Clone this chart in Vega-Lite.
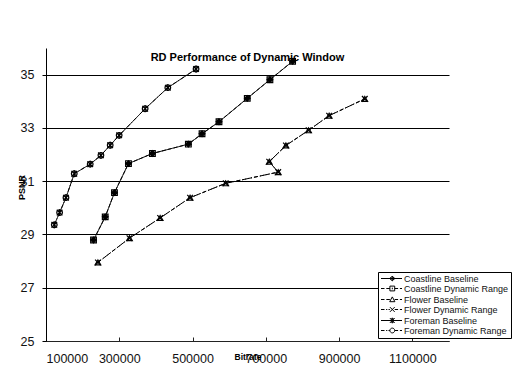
{
  "$schema": "https://vega.github.io/schema/vega-lite/v6.json",
  "width": 403,
  "height": 293,
  "autosize": {"type": "none"},
  "padding": {"left": 46, "top": 48, "right": 70, "bottom": 25},
  "background": "white",
  "config": {
    "font": "Liberation Sans",
    "view": {"stroke": null},
    "axis": {"labelFont": "Liberation Sans", "titleFont": "Liberation Sans"}
  },
  "title": {
    "text": "RD Performance of Dynamic Window",
    "font": "Liberation Sans",
    "fontSize": 11,
    "fontWeight": "bold",
    "color": "black",
    "baseline": "middle",
    "offset": -21,
    "anchor": "middle"
  },
  "data": {
    "values": [
      {"s": "Coastline Baseline", "i": 1, "x": 229700, "y": 28.79},
      {"s": "Coastline Baseline", "i": 2, "x": 261600, "y": 29.66},
      {"s": "Coastline Baseline", "i": 3, "x": 286900, "y": 30.57},
      {"s": "Coastline Baseline", "i": 4, "x": 325100, "y": 31.66},
      {"s": "Coastline Baseline", "i": 5, "x": 390500, "y": 32.04},
      {"s": "Coastline Baseline", "i": 6, "x": 488600, "y": 32.39},
      {"s": "Coastline Baseline", "i": 7, "x": 525900, "y": 32.78},
      {"s": "Coastline Baseline", "i": 8, "x": 572200, "y": 33.23},
      {"s": "Coastline Baseline", "i": 9, "x": 649400, "y": 34.11},
      {"s": "Coastline Baseline", "i": 10, "x": 711200, "y": 34.81},
      {"s": "Coastline Baseline", "i": 11, "x": 773100, "y": 35.5},
      {"s": "Coastline Dynamic Range", "i": 1, "x": 229700, "y": 28.79},
      {"s": "Coastline Dynamic Range", "i": 2, "x": 261600, "y": 29.66},
      {"s": "Coastline Dynamic Range", "i": 3, "x": 286900, "y": 30.57},
      {"s": "Coastline Dynamic Range", "i": 4, "x": 325100, "y": 31.66},
      {"s": "Coastline Dynamic Range", "i": 5, "x": 390500, "y": 32.04},
      {"s": "Coastline Dynamic Range", "i": 6, "x": 488600, "y": 32.39},
      {"s": "Coastline Dynamic Range", "i": 7, "x": 525900, "y": 32.78},
      {"s": "Coastline Dynamic Range", "i": 8, "x": 572200, "y": 33.23},
      {"s": "Coastline Dynamic Range", "i": 9, "x": 649400, "y": 34.11},
      {"s": "Coastline Dynamic Range", "i": 10, "x": 711200, "y": 34.81},
      {"s": "Coastline Dynamic Range", "i": 11, "x": 773100, "y": 35.5},
      {"s": "Flower Baseline", "i": 1, "x": 241700, "y": 27.95},
      {"s": "Flower Baseline", "i": 2, "x": 327800, "y": 28.86},
      {"s": "Flower Baseline", "i": 3, "x": 411500, "y": 29.62},
      {"s": "Flower Baseline", "i": 4, "x": 493200, "y": 30.38},
      {"s": "Flower Baseline", "i": 5, "x": 590500, "y": 30.92},
      {"s": "Flower Baseline", "i": 6, "x": 733800, "y": 31.34},
      {"s": "Flower Baseline", "i": 7, "x": 709300, "y": 31.73},
      {"s": "Flower Baseline", "i": 8, "x": 754800, "y": 32.34},
      {"s": "Flower Baseline", "i": 9, "x": 816700, "y": 32.91},
      {"s": "Flower Baseline", "i": 10, "x": 872800, "y": 33.46},
      {"s": "Flower Baseline", "i": 11, "x": 970100, "y": 34.09},
      {"s": "Flower Dynamic Range", "i": 1, "x": 241700, "y": 27.95},
      {"s": "Flower Dynamic Range", "i": 2, "x": 327800, "y": 28.86},
      {"s": "Flower Dynamic Range", "i": 3, "x": 411500, "y": 29.62},
      {"s": "Flower Dynamic Range", "i": 4, "x": 493200, "y": 30.38},
      {"s": "Flower Dynamic Range", "i": 5, "x": 590500, "y": 30.92},
      {"s": "Flower Dynamic Range", "i": 6, "x": 733800, "y": 31.34},
      {"s": "Flower Dynamic Range", "i": 7, "x": 709300, "y": 31.73},
      {"s": "Flower Dynamic Range", "i": 8, "x": 754800, "y": 32.34},
      {"s": "Flower Dynamic Range", "i": 9, "x": 816700, "y": 32.91},
      {"s": "Flower Dynamic Range", "i": 10, "x": 872800, "y": 33.46},
      {"s": "Flower Dynamic Range", "i": 11, "x": 970100, "y": 34.09},
      {"s": "Foreman Baseline", "i": 1, "x": 122600, "y": 29.36},
      {"s": "Foreman Baseline", "i": 2, "x": 137100, "y": 29.82},
      {"s": "Foreman Baseline", "i": 3, "x": 154500, "y": 30.38},
      {"s": "Foreman Baseline", "i": 4, "x": 177100, "y": 31.28},
      {"s": "Foreman Baseline", "i": 5, "x": 220700, "y": 31.64},
      {"s": "Foreman Baseline", "i": 6, "x": 249900, "y": 31.97},
      {"s": "Foreman Baseline", "i": 7, "x": 275200, "y": 32.35},
      {"s": "Foreman Baseline", "i": 8, "x": 299700, "y": 32.72},
      {"s": "Foreman Baseline", "i": 9, "x": 370600, "y": 33.72},
      {"s": "Foreman Baseline", "i": 10, "x": 432500, "y": 34.51},
      {"s": "Foreman Baseline", "i": 11, "x": 509600, "y": 35.21},
      {"s": "Foreman Dynamic Range", "i": 1, "x": 122600, "y": 29.36},
      {"s": "Foreman Dynamic Range", "i": 2, "x": 137100, "y": 29.82},
      {"s": "Foreman Dynamic Range", "i": 3, "x": 154500, "y": 30.38},
      {"s": "Foreman Dynamic Range", "i": 4, "x": 177100, "y": 31.28},
      {"s": "Foreman Dynamic Range", "i": 5, "x": 220700, "y": 31.64},
      {"s": "Foreman Dynamic Range", "i": 6, "x": 249900, "y": 31.97},
      {"s": "Foreman Dynamic Range", "i": 7, "x": 275200, "y": 32.35},
      {"s": "Foreman Dynamic Range", "i": 8, "x": 299700, "y": 32.72},
      {"s": "Foreman Dynamic Range", "i": 9, "x": 370600, "y": 33.72},
      {"s": "Foreman Dynamic Range", "i": 10, "x": 432500, "y": 34.51},
      {"s": "Foreman Dynamic Range", "i": 11, "x": 509600, "y": 35.21}
    ]
  },
  "encoding": {
    "x": {
      "field": "x",
      "type": "quantitative",
      "title": "Bitrate",
      "scale": {"domain": [100000, 1200000], "nice": false, "zero": false},
      "axis": {
        "values": [100000, 300000, 500000, 700000, 900000, 1100000],
        "format": "d",
        "grid": false,
        "domainColor": "#222",
        "tickColor": "#222",
        "tickSize": -4,
        "labelPadding": 15,
        "labelFontSize": 12.5,
        "labelColor": "#111",
        "titleFontSize": 8.5,
        "titleFontWeight": "bold",
        "titleColor": "black",
        "titleBaseline": "middle",
        "titleY": 15
      }
    },
    "y": {
      "field": "y",
      "type": "quantitative",
      "title": "PSNR",
      "scale": {"domain": [25, 36], "nice": false, "zero": false},
      "axis": {
        "values": [25, 27, 29, 31, 33, 35],
        "grid": true,
        "gridColor": "black",
        "gridOpacity": 1,
        "gridWidth": 1,
        "domainColor": "black",
        "tickColor": "black",
        "tickSize": 4,
        "labelPadding": 8,
        "labelFontSize": 12.5,
        "labelColor": "#111",
        "titleFontSize": 9,
        "titleFontWeight": "bold",
        "titleColor": "black",
        "titleAngle": -90,
        "titleBaseline": "middle",
        "titleX": -25,
        "titleY": 139
      }
    },
    "order": {"field": "i", "type": "quantitative"}
  },
  "layer": [
    {
      "mark": {"type": "line", "color": "black", "strokeWidth": 1},
      "encoding": {
        "strokeDash": {
          "field": "s",
          "type": "nominal",
          "legend": null,
          "scale": {
            "domain": ["Coastline Baseline", "Coastline Dynamic Range", "Flower Baseline", "Flower Dynamic Range", "Foreman Baseline", "Foreman Dynamic Range"],
            "range": [[1, 0], [4, 2], [4, 2], [4, 2, 1, 2], [1, 0], [4, 2, 1, 2]]
          }
        }
      }
    },
    {
      "mark": {"type": "point", "size": 32, "stroke": "black", "strokeWidth": 1.2, "opacity": 1},
      "encoding": {
        "shape": {
          "field": "s",
          "type": "nominal",
          "legend": null,
          "scale": {
            "domain": ["Coastline Baseline", "Coastline Dynamic Range", "Flower Baseline", "Flower Dynamic Range", "Foreman Baseline", "Foreman Dynamic Range"],
            "range": ["diamond", "square", "triangle-up", "M-1,-1L1,1M-1,1L1,-1", "M-1,-1L1,1M-1,1L1,-1M0,-1.2L0,1.2", "circle"]
          }
        },
        "fill": {
          "field": "s",
          "type": "nominal",
          "legend": null,
          "scale": {
            "domain": ["Coastline Baseline", "Coastline Dynamic Range", "Flower Baseline", "Flower Dynamic Range", "Foreman Baseline", "Foreman Dynamic Range"],
            "range": ["black", "transparent", "transparent", "transparent", "black", "transparent"]
          }
        }
      }
    },
    {
      "mark": {"type": "point", "size": 0, "filled": false, "stroke": "black", "strokeWidth": 1},
      "encoding": {
        "shape": {
          "field": "s",
          "type": "nominal",
          "scale": {
            "domain": ["Coastline Baseline", "Coastline Dynamic Range", "Flower Baseline", "Flower Dynamic Range", "Foreman Baseline", "Foreman Dynamic Range"],
            "range": [
              "M-0.875,0H4.375M1.35,0L1.95,-0.6L2.55,0L1.95,0.6ZM1.95,-0.6V0.6M1.6,-0.3V0.3M2.3,-0.3V0.3",
              "M-0.875,0H0M0.45,0H1.35M2.55,0H3.4M3.85,0H4.375M1.35,-0.6H2.55V0.6H1.35ZM1.95,-0.2V0.2",
              "M-0.875,0H0M0.45,0H1.35M2.55,0H3.4M3.85,0H4.375M1.95,-0.65L2.6,0.55H1.3Z",
              "M-0.875,0H0M0.4,0H0.7M1.0,0H1.35M2.55,0H3.4M3.85,0H4.375M1.35,-0.6L2.55,0.6M1.35,0.6L2.55,-0.6",
              "M-0.875,0H4.375M1.35,-0.6L2.55,0.6M1.35,0.6L2.55,-0.6M1.95,-0.7V0.7M1.55,-0.4H2.35M1.55,0.4H2.35",
              "M-0.875,0H0M0.4,0H0.7M1.0,0H1.35M2.55,0H3.4M3.85,0H4.375M1.35,0A0.6,0.6 0 1,0 2.55,0A0.6,0.6 0 1,0 1.35,0"
            ]
          },
          "legend": {
            "title": null,
            "orient": "none",
            "legendX": 332,
            "legendY": 224,
            "strokeColor": "black",
            "fillColor": "white",
            "padding": 2,
            "symbolSize": 64,
            "symbolStrokeWidth": 1,
            "symbolStrokeColor": "black",
            "symbolFillColor": "transparent",
            "symbolOpacity": 1,
            "labelOffset": 15,
            "labelFont": "Liberation Sans",
            "labelFontSize": 9,
            "labelColor": "#111",
            "rowPadding": 0,
            "cornerRadius": 0
          }
        }
      }
    }
  ],
  "resolve": {"scale": {"shape": "independent"}}
}
